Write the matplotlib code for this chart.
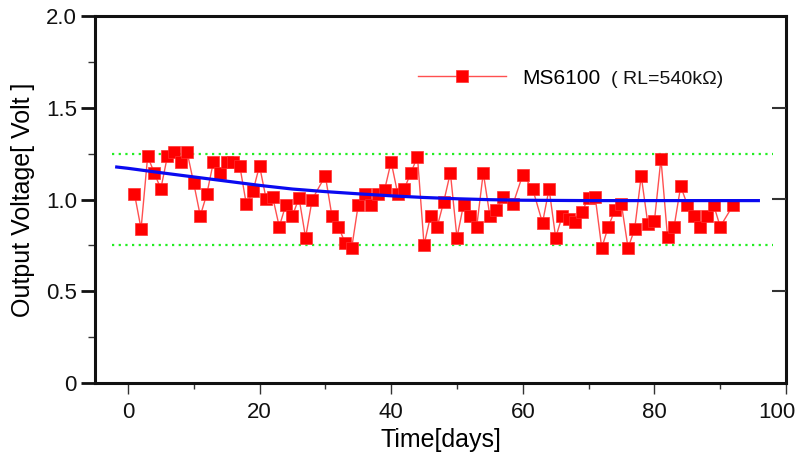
import matplotlib
matplotlib.use("Agg")
import matplotlib.pyplot as plt
import matplotlib.transforms as mtransforms
from matplotlib.ticker import MultipleLocator, FixedLocator, FixedFormatter

# ---- data ----
days = [1, 2, 3, 4, 5, 6, 7, 8, 9, 10, 11, 12, 13, 14, 15, 16, 17, 18, 19, 20,
        21, 22, 23, 24, 25, 26, 27, 28, 30, 31, 32, 33, 34, 35, 36, 37, 38, 39, 40,
        41, 42, 43, 44, 45, 46, 47, 48, 49, 50, 51, 52, 53, 54, 55, 56, 57, 58.5,
        60, 61.5, 63, 64, 65, 66, 67, 68, 69, 70, 71, 72, 73, 74, 75, 76, 77, 78,
        79, 80, 81, 82, 83, 84, 85, 86, 87, 88, 89, 90, 92]
voltage = [1.031, 0.84, 1.235, 1.146, 1.058, 1.235, 1.258, 1.204, 1.258, 1.089,
           0.911, 1.031, 1.206, 1.146, 1.206, 1.206, 1.184, 0.973, 1.045, 1.184,
           1.004, 1.013, 0.852, 0.971, 0.911, 1.009, 0.792, 1.0, 1.129, 0.911,
           0.852, 0.763, 0.734, 0.971, 1.031, 0.971, 1.031, 1.052, 1.206, 1.031,
           1.058, 1.146, 1.233, 0.752, 0.911, 0.852, 0.989, 1.146, 0.792, 0.971,
           0.911, 0.852, 1.146, 0.911, 0.942, 1.016, 0.973, 1.135, 1.058, 0.873,
           1.058, 0.792, 0.911, 0.892, 0.876, 0.934, 1.009, 1.016, 0.736, 0.852,
           0.942, 0.973, 0.736, 0.838, 1.129, 0.869, 0.881, 1.222, 0.794, 0.852,
           1.073, 0.971, 0.911, 0.852, 0.911, 0.971, 0.852, 0.971]

fit_days = [-1.7, 0, 5, 10, 15, 20, 25, 30, 35, 40, 45, 50, 55, 60, 70, 80, 90, 95.8]
fit_volt = [1.177, 1.170, 1.146, 1.123, 1.100, 1.077, 1.057, 1.043, 1.031, 1.020,
            1.011, 1.004, 0.999, 0.996, 0.994, 0.994, 0.994, 0.994]

limit_days = [-2.4, 98.1]
upper_limit = 1.25
lower_limit = 0.75

x_ticks = [0, 20, 40, 60, 80, 100]
x_labels = ["0", "20", "40", "60", "80", "100"]
y_ticks = [0, 0.5, 1.0, 1.5, 2.0]
y_labels = ["0", "0.5", "1.0", "1.5", "2.0"]

legend_label = "MS6100"
legend_note = "( RL=540k\u03a9)"

plt.rcParams['font.family'] = ['Liberation Sans', 'DejaVu Sans']

fig = plt.figure(figsize=(8.02, 4.59), dpi=100)
ax = fig.add_axes([95 / 802, 1 - 383 / 459, 691 / 802, 367 / 459])

ax.plot(limit_days, [upper_limit] * 2, color='#22ee22', lw=1.6, ls=(0, (1, 2)))
ax.plot(limit_days, [lower_limit] * 2, color='#22ee22', lw=1.6, ls=(0, (1, 2)))

line, = ax.plot(days, voltage, color='#ff5050', lw=1.0, marker='s', ms=8.2,
                mfc='#ff0000', mec='#ff3030', mew=0.5, label=legend_label, zorder=3)
ax.plot(fit_days, fit_volt, color='#0a0af0', lw=2.3, zorder=4)

ax.set_xlim(-5, 100)
ax.set_ylim(0, 2.0)

ax.xaxis.set_major_locator(FixedLocator(x_ticks))
ax.xaxis.set_major_formatter(FixedFormatter(x_labels))
ax.xaxis.set_minor_locator(MultipleLocator(10))
ax.yaxis.set_major_locator(FixedLocator(y_ticks))
ax.yaxis.set_major_formatter(FixedFormatter(y_labels))
ax.yaxis.set_minor_locator(MultipleLocator(0.25))

ax.tick_params(axis='x', which='major', direction='out', length=8, width=1.0,
               color='#333333', labelsize=16, pad=6, labelcolor='#111111')
ax.tick_params(axis='x', which='minor', direction='out', length=4, width=1.0,
               color='#333333')
ax.tick_params(axis='y', which='major', direction='out', length=10, width=2.0,
               color='#111111', labelsize=16, pad=3, labelcolor='#111111')
ax.tick_params(axis='y', which='minor', direction='out', length=5, width=1.0,
               color='#333333')

for s in ax.spines.values():
    s.set_linewidth(2.2)
    s.set_color('#111111')

ax2 = ax.twinx()
ax2.set_ylim(0, 2.0)
ax2.yaxis.set_major_locator(FixedLocator([0.5, 1.0, 1.5]))
ax2.tick_params(axis='y', direction='in', length=10, width=1.5, color='#333333',
                labelright=False)
for s in ax2.spines.values():
    s.set_visible(False)

ax.set_xlabel("Time[days]", fontsize=18, labelpad=3)
ax.set_ylabel("Output Voltage[ Volt ]", fontsize=18, labelpad=8)

# shift the last x tick label left so it stays inside the figure
fig.canvas.draw()
last_lbl = ax.get_xticklabels()[-1]
last_lbl.set_transform(last_lbl.get_transform() +
                       mtransforms.ScaledTranslation(-9 / 100, 0, fig.dpi_scale_trans))

leg = ax.legend(handles=[line], loc='center left',
                bbox_to_anchor=((418 - 95) / 691, 1 - (78 - 16) / 367),
                frameon=False, fontsize=15, handlelength=4.2, handletextpad=0.8,
                borderpad=0, borderaxespad=0)
ax.text((611 - 95) / 691, 1 - (79 - 16) / 367, legend_note, transform=ax.transAxes,
        fontsize=14, va='center', ha='left', color='#111111')

fig.savefig("out.png", dpi=100)
